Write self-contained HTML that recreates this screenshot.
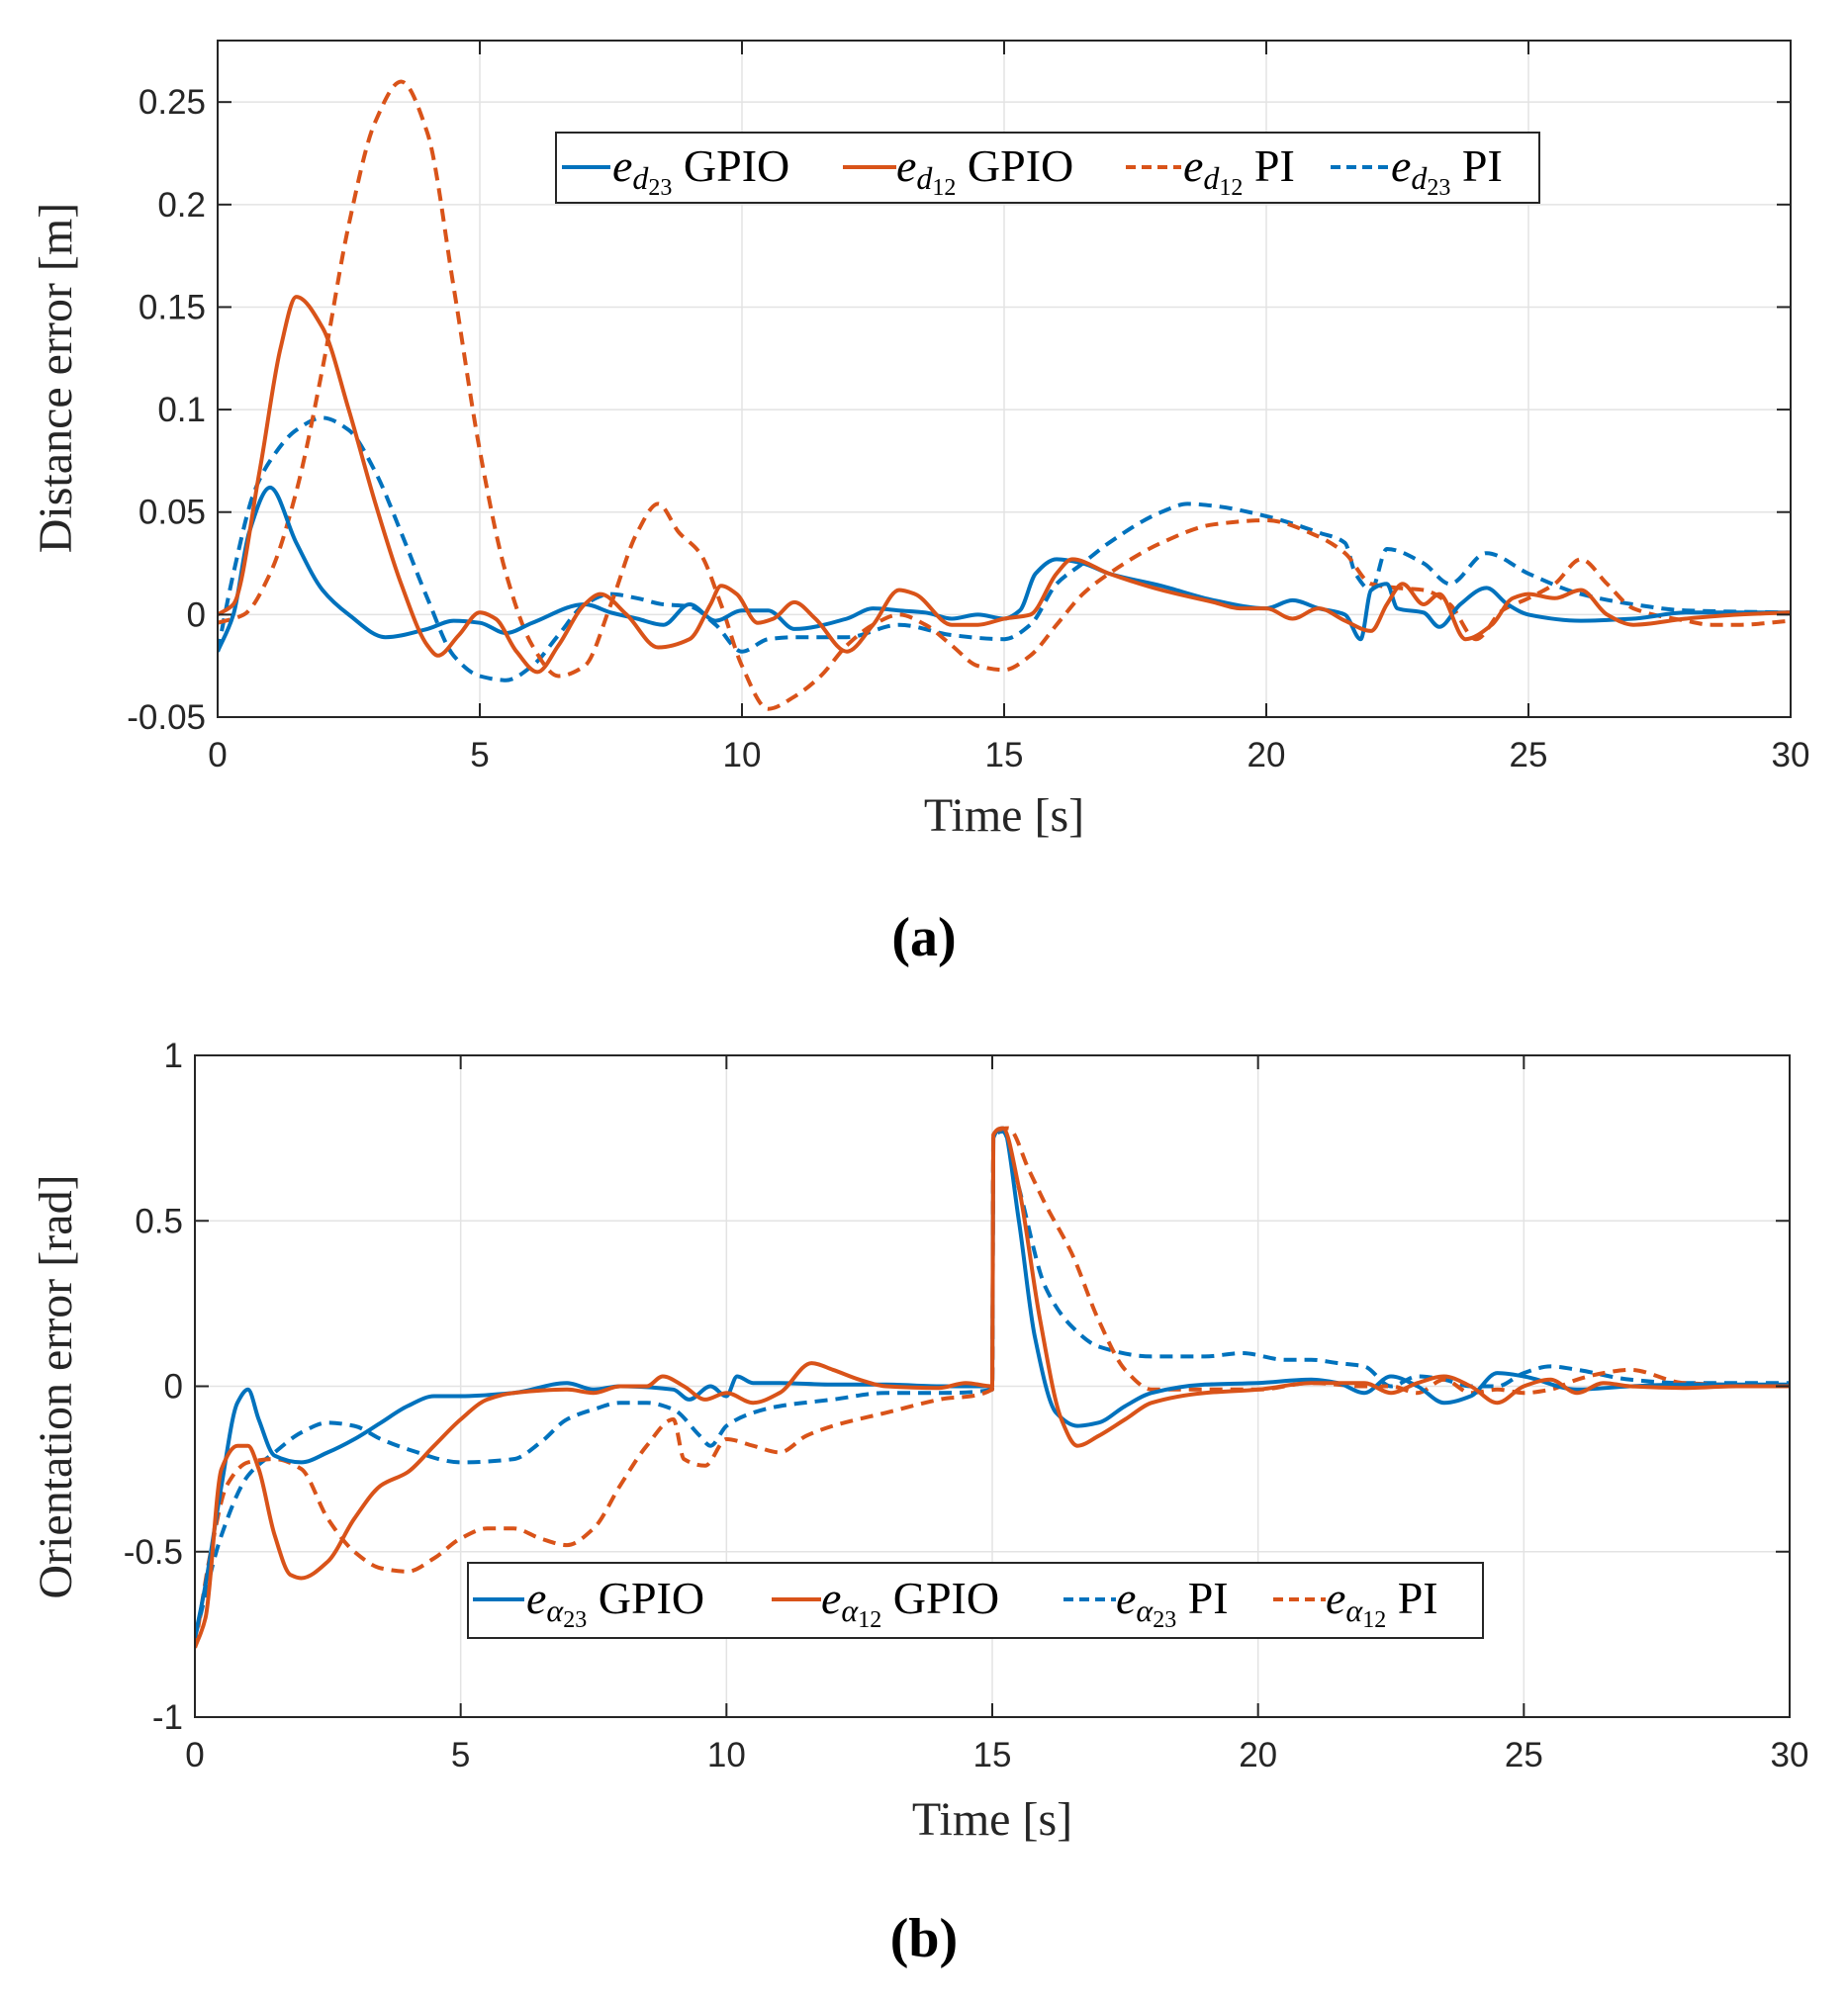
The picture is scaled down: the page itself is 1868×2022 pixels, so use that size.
<!DOCTYPE html>
<html><head><meta charset="utf-8"><style>
body{margin:0;background:#fff}
svg{display:block}
.tk{font-family:"Liberation Sans",sans-serif;font-size:35px;fill:#262626}
.cap{font-family:"Liberation Serif",serif;font-size:56px;font-weight:bold;fill:#000}
</style></head><body>
<svg id="svg" width="1868" height="2022" viewBox="0 0 1868 2022">
<g id="pa"></g>
<g id="pb"></g>
<text class="cap" x="934" y="966" text-anchor="middle">(a)</text>
<text class="cap" x="934" y="1978" text-anchor="middle">(b)</text>
</svg>
<script>
// ---- Chart A data ----
const aXTicks=[0,5,10,15,20,25,30];
const aYTicks=[-0.05,0,0.05,0.1,0.15,0.2,0.25];
const aYTickLabels=["-0.05","0","0.05","0.1","0.15","0.2","0.25"];
const aEd23GpioT=[0,0.3,0.6,1.0,1.5,2,2.5,3.2,4,4.5,5,5.5,6,7,7.5,8,8.5,9,9.5,10,10.5,11,12,12.5,13,13.5,14,14.5,15,15.3,15.6,16,16.5,17,18,19,20,20.5,21,21.5,21.8,22,22.3,22.5,23,23.3,23.7,24.2,24.6,25,26,27,28,30];
const aEd23GpioV=[-0.018,0,0.04,0.062,0.035,0.012,0,-0.011,-0.007,-0.003,-0.004,-0.009,-0.004,0.005,0.001,-0.002,-0.005,0.005,-0.003,0.002,0.002,-0.007,-0.002,0.003,0.002,0.001,-0.002,0,-0.002,0.002,0.02,0.027,0.025,0.02,0.014,0.007,0.003,0.007,0.003,0,-0.012,0.012,0.015,0.003,0.001,-0.006,0.005,0.013,0.005,0,-0.003,-0.002,0.001,0.001];
const aEd12GpioT=[0,0.3,0.8,1.2,1.5,2,2.5,3,3.5,4,4.2,4.6,5,5.3,5.7,6.1,6.5,7,7.3,7.8,8.4,9,9.4,9.6,9.9,10.3,10.6,11,11.4,12,12.5,13,13.3,14,14.5,15,15.5,16,16.3,17,18,19,19.5,20,20.5,21,21.5,22,22.3,22.6,23,23.3,23.8,24.3,24.7,25,25.5,26,26.5,27,28,29,30];
const aEd12GpioV=[0,0.005,0.07,0.13,0.155,0.14,0.1,0.055,0.015,-0.015,-0.02,-0.01,0.001,-0.002,-0.018,-0.028,-0.015,0.005,0.01,0,-0.016,-0.012,0.005,0.014,0.01,-0.004,-0.002,0.006,-0.002,-0.018,-0.005,0.012,0.01,-0.005,-0.005,-0.002,0,0.02,0.027,0.02,0.012,0.006,0.003,0.003,-0.002,0.003,-0.003,-0.008,0.005,0.015,0.005,0.01,-0.012,-0.005,0.008,0.01,0.008,0.012,0,-0.005,-0.002,0,0.001];
const aEd12PiT=[0,0.5,1,1.5,2,2.5,3,3.5,4,4.5,5,5.5,6,6.5,7,7.5,8,8.4,8.8,9.2,9.6,10,10.5,11,11.5,12,12.5,13,13.5,14,14.5,15,15.5,16,16.5,17,18,19,20,21,21.5,22,22.5,23,23.5,24,24.5,25,25.5,26,26.5,27,28,28.5,29,30];
const aEd12PiV=[-0.004,0,0.02,0.06,0.12,0.19,0.24,0.26,0.235,0.16,0.08,0.02,-0.015,-0.03,-0.025,0.005,0.04,0.054,0.04,0.03,0.005,-0.025,-0.046,-0.04,-0.03,-0.015,-0.005,0,-0.005,-0.015,-0.025,-0.027,-0.02,-0.005,0.01,0.02,0.035,0.044,0.046,0.038,0.03,0.015,0.013,0.012,0.005,-0.012,0.002,0.008,0.015,0.027,0.015,0.003,-0.003,-0.005,-0.005,-0.003];
const aEd23PiT=[0,0.3,0.7,1,1.5,2,2.5,3,3.5,4,4.5,5,5.5,6,6.5,7,7.5,8,8.5,9,9.5,10,10.5,11,12,13,14,15,15.5,16,16.5,17,18,18.5,19,20,21,21.5,21.7,22,22.3,23,23.5,24.2,25,26,27,28,30];
const aEd23PiV=[-0.018,0.02,0.06,0.075,0.09,0.096,0.09,0.07,0.04,0.008,-0.02,-0.03,-0.032,-0.025,-0.01,0.005,0.01,0.008,0.005,0.004,-0.005,-0.018,-0.012,-0.011,-0.011,-0.005,-0.01,-0.012,-0.005,0.015,0.025,0.035,0.05,0.054,0.053,0.048,0.04,0.035,0.02,0.012,0.032,0.025,0.015,0.03,0.02,0.01,0.005,0.002,0.001];
// ---- Chart B data ----
const bXTicks=[0,5,10,15,20,25,30];
const bYTicks=[-1,-0.5,0,0.5,1];
const bYTickLabels=["-1","-0.5","0","0.5","1"];
const bEa23GpioT=[0,0.2,0.5,0.8,1.0,1.2,1.5,2,2.5,3,3.5,4,4.5,5,6,7,7.5,8,9,9.3,9.7,10,10.2,10.5,11,12,13,14,15,15.02,15.2,15.5,15.8,16.2,16.6,17,17.5,18,19,20,21,21.5,22,22.5,23,23.5,24,24.5,25,26,27,28,30];
const bEa23GpioV=[-0.76,-0.6,-0.3,-0.05,-0.01,-0.1,-0.21,-0.23,-0.2,-0.16,-0.11,-0.06,-0.03,-0.03,-0.02,0.01,-0.01,0,-0.01,-0.04,0,-0.03,0.03,0.01,0.01,0.005,0.005,0,0,0.75,0.78,0.5,0.15,-0.08,-0.12,-0.11,-0.06,-0.02,0.005,0.01,0.02,0.01,-0.02,0.03,0,-0.05,-0.03,0.04,0.03,-0.01,0,0.005,0.005];
const bEa12GpioT=[0,0.2,0.5,0.8,1.0,1.2,1.5,1.8,2,2.5,3,3.5,4,4.5,5,5.5,6,7,7.5,8,8.5,8.8,9.2,9.6,10,10.5,11,11.6,12,12.5,13,14,14.5,15,15.02,15.2,15.5,15.9,16.3,16.6,17,17.5,18,19,20,21,22,22.5,23,23.5,24,24.5,25,25.5,26,26.5,27,28,29,30];
const bEa12GpioV=[-0.79,-0.7,-0.25,-0.18,-0.18,-0.25,-0.45,-0.57,-0.58,-0.53,-0.4,-0.3,-0.26,-0.18,-0.1,-0.04,-0.02,-0.01,-0.02,0,0,0.03,0,-0.04,-0.02,-0.05,-0.02,0.07,0.05,0.02,0,-0.005,0.01,0,0.76,0.78,0.6,0.2,-0.1,-0.18,-0.15,-0.1,-0.05,-0.02,-0.01,0.01,0.01,-0.02,0.01,0.03,0,-0.05,0,0.02,-0.02,0.01,0,-0.005,0,0];
const bEa23PiT=[0,0.5,1,1.5,2,2.5,3,3.5,4,5,6,6.5,7,7.5,8,8.5,9,9.5,9.7,10,10.5,11,12,13,14,15,15.02,15.2,15.5,16,16.5,17,18,19,19.7,20.5,21,21.5,22,22.5,23,23.5,24,24.5,25,25.5,26,27,28,30];
const bEa23PiV=[-0.76,-0.45,-0.27,-0.2,-0.14,-0.11,-0.12,-0.16,-0.19,-0.23,-0.22,-0.17,-0.1,-0.07,-0.05,-0.05,-0.07,-0.15,-0.18,-0.12,-0.08,-0.06,-0.04,-0.02,-0.02,-0.01,0.75,0.77,0.6,0.3,0.18,0.12,0.09,0.09,0.1,0.08,0.08,0.07,0.06,0,0.03,0.02,0,0,0.04,0.06,0.05,0.02,0.01,0.01];
const bEa12PiT=[0,0.3,0.6,1,1.5,2,2.5,3,3.5,4,4.5,5,5.5,6,6.5,7,7.5,8,8.5,9,9.2,9.6,10,10.5,11,11.5,12,13,14,15,15.02,15.3,15.7,16,16.5,17,17.5,18,19,20,21,22,22.5,23,23.5,24,24.5,25,25.5,26,26.5,27,28,30];
const bEa12PiV=[-0.79,-0.5,-0.3,-0.23,-0.22,-0.25,-0.4,-0.5,-0.55,-0.56,-0.52,-0.46,-0.43,-0.43,-0.46,-0.48,-0.43,-0.3,-0.18,-0.1,-0.22,-0.24,-0.16,-0.18,-0.2,-0.15,-0.12,-0.08,-0.04,-0.01,0.76,0.78,0.65,0.55,0.4,0.2,0.05,-0.01,-0.01,-0.01,0.01,0,0,-0.02,0.02,-0.02,-0.01,-0.02,-0.01,0.02,0.04,0.05,0.01,0];

const NS='http://www.w3.org/2000/svg';
const BLUE='#0072bd', ORANGE='#d95319';
function mk(tag,attrs,parent){const e=document.createElementNS(NS,tag);for(const k in attrs)e.setAttribute(k,attrs[k]);parent.appendChild(e);return e;}

// monotone-x cubic path (no overshoot)
function monoPath(xs,ys){
  const n=xs.length;if(n<2)return '';
  const dx=[],m=[];for(let i=0;i<n-1;i++){dx.push(xs[i+1]-xs[i]);m.push((ys[i+1]-ys[i])/dx[i]);}
  const t=new Array(n);t[0]=m[0];t[n-1]=m[n-2];
  for(let i=1;i<n-1;i++){if(m[i-1]*m[i]<=0)t[i]=0;else{const w1=2*dx[i]+dx[i-1],w2=dx[i]+2*dx[i-1];t[i]=(w1+w2)/(w1/m[i-1]+w2/m[i]);}}
  let d='M'+xs[0].toFixed(1)+','+ys[0].toFixed(1);
  for(let i=0;i<n-1;i++){const h=dx[i]/3;
    d+='C'+(xs[i]+h).toFixed(1)+','+(ys[i]+t[i]*h).toFixed(1)+' '+(xs[i+1]-h).toFixed(1)+','+(ys[i+1]-t[i+1]*h).toFixed(1)+' '+xs[i+1].toFixed(1)+','+ys[i+1].toFixed(1);}
  return d;
}

function chart(g,cfg){
  const {L,R,T,B,xmin,xmax,ymin,ymax}=cfg;
  const sx=v=>L+(v-xmin)/(xmax-xmin)*(R-L);
  const sy=v=>B-(v-ymin)/(ymax-ymin)*(B-T);
  cfg.xt.forEach(v=>{const l=mk('line',{x1:sx(v),x2:sx(v),y1:T,y2:B,stroke:'#e3e3e3','stroke-width':1.5},g);
    });
  cfg.yt.forEach(v=>{const l=mk('line',{x1:L,x2:R,y1:sy(v),y2:sy(v),stroke:'#e3e3e3','stroke-width':1.5},g);
    });
  const clip='c'+cfg.id;
  const cp=mk('clipPath',{id:clip},g);mk('rect',{x:L,y:T,width:R-L,height:B-T},cp);
  cfg.series.forEach(s=>{
    const d=monoPath(s.t.map(sx),s.v.map(sy));
    const p=mk('path',{d:d,fill:'none',stroke:s.c,'stroke-width':4,'stroke-linejoin':'round','clip-path':'url(#'+clip+')'},g);
    if(s.dash)p.setAttribute('stroke-dasharray','13,8');
    
    
  });
  const bx=mk('rect',{x:L,y:T,width:R-L,height:B-T,fill:'none',stroke:'#262626','stroke-width':2},g);
  
  cfg.xt.forEach(v=>{mk('line',{x1:sx(v),x2:sx(v),y1:B,y2:B-14,stroke:'#262626','stroke-width':2},g);mk('line',{x1:sx(v),x2:sx(v),y1:T,y2:T+14,stroke:'#262626','stroke-width':2},g);
    const t=mk('text',{x:sx(v),y:B+50,'text-anchor':'middle',class:'tk'},g);t.textContent=String(v);
    });
  cfg.yt.forEach((v,i)=>{mk('line',{x1:L,x2:L+14,y1:sy(v),y2:sy(v),stroke:'#262626','stroke-width':2},g);mk('line',{x1:R,x2:R-14,y1:sy(v),y2:sy(v),stroke:'#262626','stroke-width':2},g);
    const t=mk('text',{x:L-12,y:sy(v)+12,'text-anchor':'end',class:'tk'},g);t.textContent=cfg.ytl[i];
    });
}

chart(document.getElementById('pa'),{id:'a',L:220,R:1810,T:41,B:725,xmin:0,xmax:30,ymin:-0.05,ymax:0.28,xt:aXTicks,yt:aYTicks,ytl:aYTickLabels,
 series:[
  {t:aEd23PiT,v:aEd23PiV,c:BLUE,dash:1,name:'ed23-pi-line'},
  {t:aEd12PiT,v:aEd12PiV,c:ORANGE,dash:1,name:'ed12-pi-line'},
  {t:aEd23GpioT,v:aEd23GpioV,c:BLUE,name:'ed23-gpio-line'},
  {t:aEd12GpioT,v:aEd12GpioV,c:ORANGE,name:'ed12-gpio-line'}]});
chart(document.getElementById('pb'),{id:'b',L:197,R:1809,T:1067,B:1736,xmin:0,xmax:30,ymin:-1,ymax:1,xt:bXTicks,yt:bYTicks,ytl:bYTickLabels,
 series:[
  {t:bEa23PiT,v:bEa23PiV,c:BLUE,dash:1,name:'ea23-pi-line'},
  {t:bEa12PiT,v:bEa12PiV,c:ORANGE,dash:1,name:'ea12-pi-line'},
  {t:bEa23GpioT,v:bEa23GpioV,c:BLUE,name:'ea23-gpio-line'},
  {t:bEa12GpioT,v:bEa12GpioV,c:ORANGE,name:'ea12-gpio-line'}]});
</script>
<svg style="position:absolute;left:0;top:0" width="1868" height="2022">
<text x="1015" y="840" text-anchor="middle" font-family="Liberation Serif" font-size="48" fill="#262626">Time [s]</text>
<text x="72" y="382" text-anchor="middle" transform="rotate(-90 72 382)" font-family="Liberation Serif" font-size="48" fill="#262626">Distance error [m]</text>
<text x="1003" y="1855" text-anchor="middle" font-family="Liberation Serif" font-size="48" fill="#262626">Time [s]</text>
<text x="72" y="1402" text-anchor="middle" transform="rotate(-90 72 1402)" font-family="Liberation Serif" font-size="48" fill="#262626">Orientation error [rad]</text>
<g>
<rect x="562" y="134" width="994" height="71" fill="#fff" stroke="#262626" stroke-width="2"/>
<g font-family="Liberation Serif" font-size="46" fill="#000">
<line x1="568" x2="617" y1="169" y2="169" stroke="#0072bd" stroke-width="4"/>
<text x="619" y="183"><tspan font-style="italic">e</tspan><tspan font-style="italic" font-size="32" dy="8">d</tspan><tspan font-size="24" dy="6">23</tspan><tspan dy="-14"> GPIO</tspan></text>
<line x1="852" x2="906" y1="169" y2="169" stroke="#d95319" stroke-width="4"/>
<text x="906" y="183"><tspan font-style="italic">e</tspan><tspan font-style="italic" font-size="32" dy="8">d</tspan><tspan font-size="24" dy="6">12</tspan><tspan dy="-14"> GPIO</tspan></text>
<line x1="1138" x2="1194" y1="169" y2="169" stroke="#d95319" stroke-width="4" stroke-dasharray="10,6"/>
<text x="1196" y="183"><tspan font-style="italic">e</tspan><tspan font-style="italic" font-size="32" dy="8">d</tspan><tspan font-size="24" dy="6">12</tspan><tspan dy="-14"> PI</tspan></text>
<line x1="1345" x2="1404" y1="169" y2="169" stroke="#0072bd" stroke-width="4" stroke-dasharray="10,6"/>
<text x="1406" y="183"><tspan font-style="italic">e</tspan><tspan font-style="italic" font-size="32" dy="8">d</tspan><tspan font-size="24" dy="6">23</tspan><tspan dy="-14"> PI</tspan></text>
</g></g>
<g>
<rect x="473" y="1580" width="1026" height="76" fill="#fff" stroke="#262626" stroke-width="2"/>
<g font-family="Liberation Serif" font-size="46" fill="#000">
<line x1="478" x2="530" y1="1617" y2="1617" stroke="#0072bd" stroke-width="4"/>
<text x="532" y="1631"><tspan font-style="italic">e</tspan><tspan font-style="italic" font-size="32" dy="8">α</tspan><tspan font-size="24" dy="6">23</tspan><tspan dy="-14"> GPIO</tspan></text>
<line x1="780" x2="830" y1="1617" y2="1617" stroke="#d95319" stroke-width="4"/>
<text x="830" y="1631"><tspan font-style="italic">e</tspan><tspan font-style="italic" font-size="32" dy="8">α</tspan><tspan font-size="24" dy="6">12</tspan><tspan dy="-14"> GPIO</tspan></text>
<line x1="1075" x2="1128" y1="1617" y2="1617" stroke="#0072bd" stroke-width="4" stroke-dasharray="10,6"/>
<text x="1128" y="1631"><tspan font-style="italic">e</tspan><tspan font-style="italic" font-size="32" dy="8">α</tspan><tspan font-size="24" dy="6">23</tspan><tspan dy="-14"> PI</tspan></text>
<line x1="1287" x2="1340" y1="1617" y2="1617" stroke="#d95319" stroke-width="4" stroke-dasharray="10,6"/>
<text x="1340" y="1631"><tspan font-style="italic">e</tspan><tspan font-style="italic" font-size="32" dy="8">α</tspan><tspan font-size="24" dy="6">12</tspan><tspan dy="-14"> PI</tspan></text>
</g></g>
</svg>
</body></html>
